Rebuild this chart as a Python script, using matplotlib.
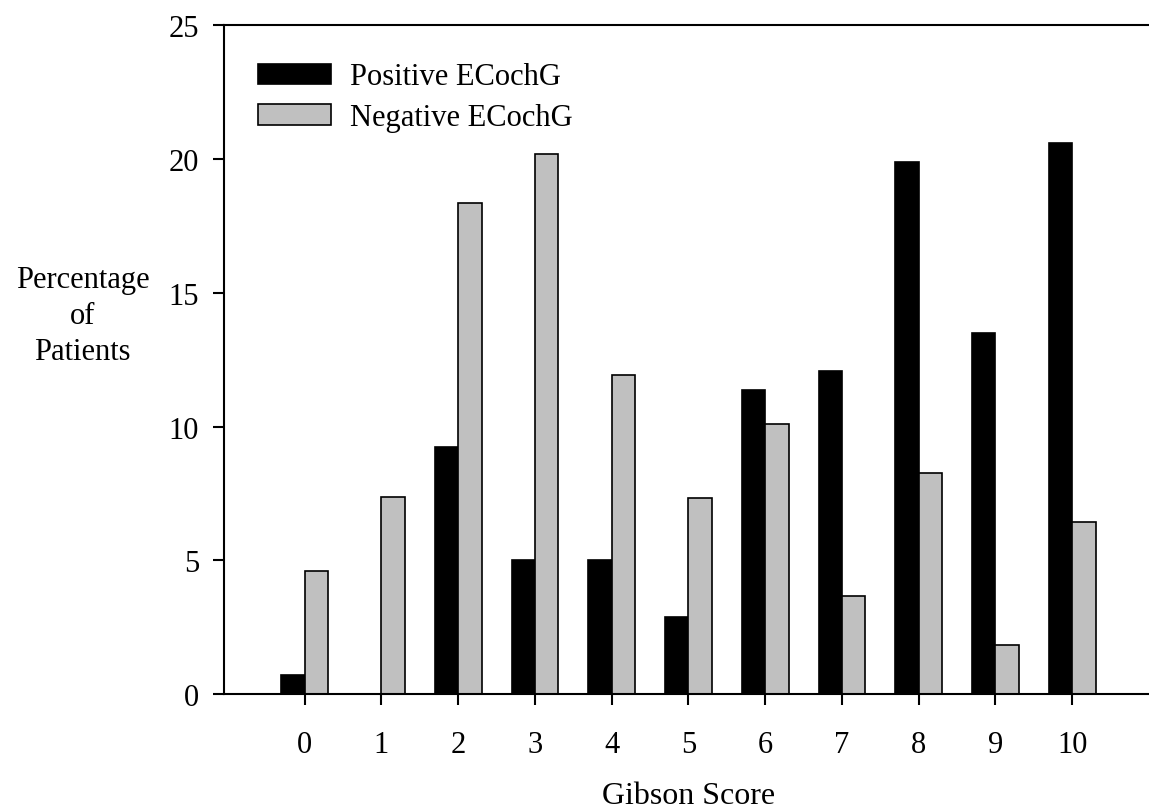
import numpy as np
import matplotlib.pyplot as plt

plt.rcParams['font.family'] = ['Liberation Serif', 'DejaVu Serif']

# Gibson score distribution, percent of patients in each group
scores = list(range(11))
positive = [0.72, 0.0, 9.25, 5.0, 5.0, 2.87, 11.38, 12.08, 19.89, 13.5, 20.58]
negative = [4.59, 7.36, 18.36, 20.19, 11.94, 7.33, 10.11, 3.69, 8.28, 1.85, 6.44]

FS = 22

fig = plt.figure(figsize=(11.49, 8.12), dpi=100)
ax = fig.add_axes([0.195, 0.1437, 0.805, 0.8243])

x = np.arange(len(scores))
w = 0.305
ax.bar(x - w / 2, positive, w, color='black', edgecolor='black', linewidth=1.2,
       label='Positive ECochG')
ax.bar(x + w / 2, negative, w, color='#c0c0c0', edgecolor='black', linewidth=1.2,
       label='Negative ECochG')

ax.set_xlim(-1.05, 11.0)
ax.set_ylim(0, 25)
ax.set_xticks(x)
ax.set_xticklabels([str(s) for s in scores])
ax.set_yticks([0, 5, 10, 15, 20, 25])

for side in ['left', 'bottom', 'top']:
    ax.spines[side].set_linewidth(1.5)
ax.spines['right'].set_visible(False)

ax.tick_params(axis='both', labelsize=FS, width=1.5, length=8, direction='out')
ax.tick_params(axis='x', pad=18)
ax.tick_params(axis='y', pad=10)

fig.text(0.072, 0.61, 'Percentage\nof\nPatients', ha='center', va='center',
         fontsize=FS, linespacing=1.33)
fig.text(0.599, 0.019, 'Gibson Score', ha='center', va='center', fontsize=23)

leg = ax.legend(loc='upper left', bbox_to_anchor=(0.014, 0.976), frameon=False,
                fontsize=FS, handlelength=2.36, handleheight=0.65,
                handletextpad=0.65, labelspacing=0.38, borderaxespad=0.3)

fig.savefig('out.png', dpi=100)
